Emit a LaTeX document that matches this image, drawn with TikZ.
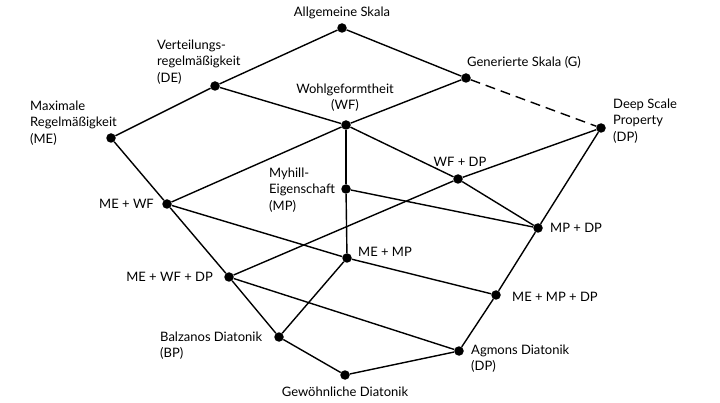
\documentclass[tikz,border=0pt]{standalone}
\usepackage{fontspec}
\setmainfont{Lato}
\begin{document}
\begin{tikzpicture}[x=1pt,y=-1pt,
  dot/.style={circle,fill=black,inner sep=0pt,minimum size=9.5pt},
  lbl/.style={inner sep=0pt,align=left,font=\fontsize{13}{16.5}\selectfont},
  edge/.style={line width=1.4pt},
  dashedge/.style={line width=1.4pt,dash pattern=on 10pt off 6pt}]
\useasboundingbox[fill=white] (0,0) rectangle (720,403);
% points
\node[dot] (AS) at (342,28) {};
\node[dot] (DE) at (215,86) {};
\node[dot] (G) at (466,78) {};
\node[dot] (ME) at (111,138) {};
\node[dot] (WF) at (346,125) {};
\node[dot] (DP) at (601,128) {};
\node[dot] (WFDP) at (458,179) {};
\node[dot] (MP) at (346,189) {};
\node[dot] (MEWF) at (167,204) {};
\node[dot] (MPDP) at (538,228) {};
\node[dot] (MEMP) at (347,258) {};
\node[dot] (MEWFDP) at (229,277) {};
\node[dot] (MEMPDP) at (496,295) {};
\node[dot] (BP) at (279,337) {};
\node[dot] (AG) at (459,351) {};
\node[dot] (GD) at (345,375) {};
% edges
\draw[edge] (AS) -- (DE);
\draw[edge] (AS) -- (G);
\draw[edge] (DE) -- (ME);
\draw[edge] (DE) -- (WF);
\draw[edge] (G) -- (WF);
\draw[dashedge] (G) -- (DP);
\draw[edge] (ME) -- (MEWF);
\draw[edge] (WF) -- (MEWF);
\draw[edge] (WF) -- (MP);
\draw[edge] (MP) -- (MEMP);
\draw[edge] (WF) -- (WFDP);
\draw[edge] (WFDP) -- (MPDP);
\draw[edge] (DP) -- (WFDP);
\draw[edge] (WFDP) -- (MEWFDP);
\draw[edge] (DP) -- (MPDP);
\draw[edge] (MP) -- (MPDP);
\draw[edge] (MEWF) -- (MEMP);
\draw[edge] (MEMP) -- (MEMPDP);
\draw[edge] (MEMP) -- (BP);
\draw[edge] (MEWF) -- (MEWFDP);
\draw[edge] (MEWFDP) -- (BP);
\draw[edge] (MEWFDP) -- (AG);
\draw[edge] (BP) -- (GD);
\draw[edge] (GD) -- (AG);
\draw[edge] (MPDP) -- (MEMPDP);
\draw[edge] (MEMPDP) -- (AG);
% labels
\node[lbl,anchor=center] (lAS) at (342,13) {Allgemeine Skala};
\node[lbl,anchor=west] (lDE) at (157,62) {Verteilungs-\\regelmäßigkeit\\(DE)};
\node[lbl,anchor=west] (lG) at (467,62) {Generierte Skala (G)};
\node[lbl,anchor=west] (lME) at (30,123) {Maximale\\Regelmäßigkeit\\(ME)};
\node[lbl,align=center,anchor=center] (lWF) at (345,97.5) {Wohlgeformtheit\\(WF)};
\node[lbl,anchor=west] (lDP) at (613,121) {Deep Scale\\Property\\(DP)};
\node[lbl,anchor=center] (lWFDP) at (460,162) {WF + DP};
\node[lbl,anchor=west] (lMP) at (269,190) {Myhill-\\Eigenschaft\\(MP)};
\node[lbl,anchor=east] (lMEWF) at (154,204) {ME + WF};
\node[lbl,anchor=west] (lMPDP) at (550,228) {MP + DP};
\node[lbl,anchor=west] (lMEMP) at (358,252) {ME + MP};
\node[lbl,anchor=east] (lMEWFDP) at (213,277) {ME + WF + DP};
\node[lbl,anchor=west] (lMEMPDP) at (512,297) {ME + MP + DP};
\node[lbl,anchor=west] (lBP) at (160,345.5) {Balzanos Diatonik\\(BP)};
\node[lbl,anchor=west] (lAG) at (471,358.5) {Agmons Diatonik\\(DP)};
\node[lbl,anchor=center] (lGD) at (345,392) {Gewöhnliche Diatonik};
\end{tikzpicture}
\end{document}
